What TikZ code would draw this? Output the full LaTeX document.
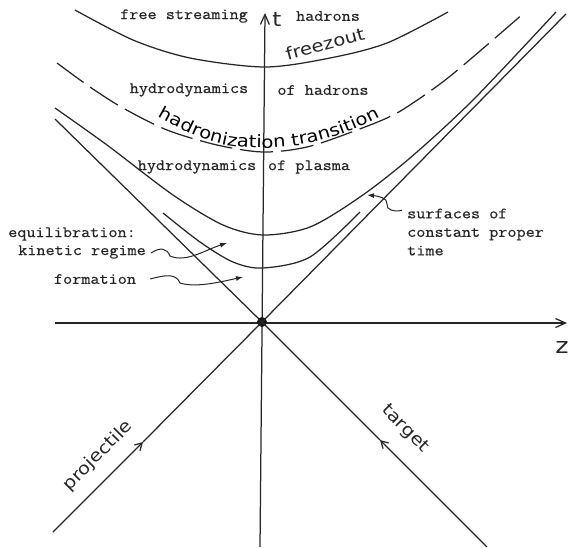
\documentclass[tikz,border=0pt]{standalone}
\usepackage{fontspec}
\newfontfamily\twf[FakeStretch=1.12,FakeBold=0.6]{Latin Modern Mono}
\newfontfamily\lett[FakeStretch=1.15]{DejaVu Sans}
\usetikzlibrary{arrows.meta,decorations.text}
\begin{document}
\begin{tikzpicture}[x=1pt,y=-1pt,
  ink/.style={draw=black!85, line width=1.25pt},
  tw/.style={font=\twf\fontsize{15.8}{18.5}\selectfont, text=black!85, inner sep=0pt},
  lt/.style={font=\lett\fontsize{17}{20}\selectfont, text=black!85, inner sep=0pt},
  axisarrow/.style={-{Straight Barb[length=10pt,width=9pt]}},
  midarrow/.style={-{Straight Barb[length=7pt,width=8pt]}},
  squig/.style={draw=black!85, line width=1pt, -{Latex[length=7pt,width=5pt]}},
]
\useasboundingbox (0,0) rectangle (568,547);

% axes
\coordinate (tA) at (260,547);
\coordinate (tB) at (265,13);
\coordinate (zA) at (55,323);
\coordinate (zB) at (567,323);
\draw[ink, axisarrow] (tA) -- (tB);
\draw[ink, axisarrow] (zA) -- (zB);
\node[font=\lett\fontsize{20}{20}\selectfont, text=black!85, inner sep=0pt] (tl) at (277,19) {t};
\node[font=\lett\fontsize{22}{22}\selectfont, text=black!85, inner sep=0pt] (zl) at (562,347) {z};

% origin
\node[circle, fill=black!90, inner sep=0pt, minimum size=10pt] (O) at (262,322) {};

% light cone lines
\coordinate (pA) at (53,532);
\coordinate (pM) at (143,442);
\coordinate (pB) at (566,14);
\draw[ink, midarrow] (pA) -- (pM);
\draw[ink] (pM) -- (O.center) -- (pB);
\coordinate (qA) at (487,547);
\coordinate (qM) at (380,440);
\coordinate (qB) at (55,119);
\draw[ink, midarrow] (qA) -- (qM);
\draw[ink] (qM) -- (O.center) -- (qB);
\node[lt, rotate=45] (proj) at (98,456) {projectile};
\node[lt, rotate=-45] (targ) at (405,429) {target};

% freezeout surface
\draw[ink] plot[smooth] coordinates {(75,10) (133,40) (190,58) (265,67) (330,58) (387,43) (448,12)};
\node[lt, rotate=15] (frz) at (325,44) {freezout};

% hadronization surface (dashed)
\draw[ink, dash pattern=on 33pt off 8pt] plot[smooth] coordinates {(57,63) (90,87) (123,108) (167,130) (217,145) (263,152) (307,147) (357,130) (397,113) (440,84) (473,57) (524,13)};
\path[decorate, decoration={text along path, text align=center,
  text={|\lett\fontsize{17}{17}\selectfont|hadronization transition}}]
  (146,110) .. controls (198,140) and (220,148) .. (262,148) .. controls (305,148) and (345,137) .. (392,110);

% constant proper time surfaces
\draw[ink] plot[smooth] coordinates {(55,108) (107,145) (173,195) (223,225) (263,235) (310,227) (360,197) (410,158) (473,100) (556,12)};
\draw[ink] plot[smooth] coordinates {(163,213) (200,242) (233,262) (263,268) (310,257) (360,212)};

% region labels
\node[tw] (fs) at (184,16) {free streaming};
\node[tw] (fh) at (328,16) {hadrons};
\node[tw] (hh1) at (189,90) {hydrodynamics};
\node[tw] (hh2) at (323,90) {of hadrons};
\node[tw] (hp1) at (197,167) {hydrodynamics};
\node[tw] (hp2) at (309,167) {of plasma};
\node[tw] (eq1) at (72,234) {equilibration:};
\node[tw] (eq2) at (82,252) {kinetic regime};
\node[tw] (fo) at (95,279) {formation};
\node[tw, anchor=west, align=left] (sf) at (407,232) {surfaces of\\constant proper\\time};

% pointer arrows
\coordinate (kT) at (227,243);
\coordinate (fT) at (243,277);
\coordinate (sT) at (367,195);
\draw[squig] (eq2.east) ++(5,1) .. controls (160,247) and (167,248) .. (170,256) .. controls (186,263) and (205,250) .. (kT);
\draw[squig] (fo.east) ++(14,0) .. controls (165,275) and (176,273) .. (180,283) .. controls (196,288) and (220,282) .. (fT);
\draw[squig] (sf.north west) ++(-5,2) .. controls (394,212) and (386,210) .. (387,204) .. controls (388,198) and (378,196) .. (sT);
\end{tikzpicture}
\end{document}
